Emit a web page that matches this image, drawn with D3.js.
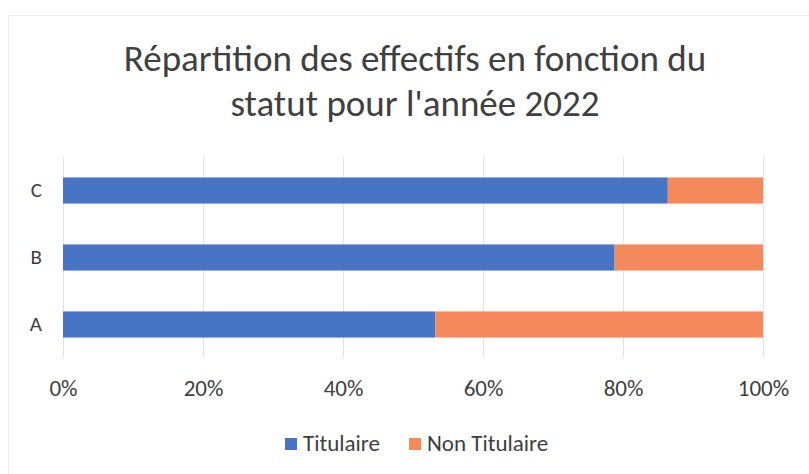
<!DOCTYPE html>
<html>
<head>
<meta charset="utf-8">
<script src="https://cdn.jsdelivr.net/npm/d3@7"></script>
<style>
  body { margin: 0; background: #fff; }
  text { font-family: Carlito, Calibri, Lato, "Open Sans", sans-serif; fill: #404040; }
</style>
</head>
<body>
<svg id="chart" width="809" height="474"></svg>
<script>
// data (share of staff per category)
var categories = ["A", "B", "C"];
var seriesNames = ["Titulaire", "Non Titulaire"];
var titulaire = [0.532, 0.788, 0.864];
var nonTitulaire = [0.468, 0.212, 0.136];
var tickValues = [0, 0.2, 0.4, 0.6, 0.8, 1];
var colors = ["#4874c6", "#f48a5c"];
var titleLines = ["Répartition des effectifs en fonction du", "statut pour l'année 2022"];

var svg = d3.select("#chart");

// faint frame of the chart object
svg.append("rect")
    .attr("x", 8.5).attr("y", 15.5)
    .attr("width", 820).attr("height", 480)
    .attr("fill", "none")
    .attr("stroke", "#eeeeee");

var margin = {left: 63, right: 46, top: 157, bottom: 116};
var width = 809 - margin.left - margin.right;

var x = d3.scaleLinear().domain([0, 1]).range([margin.left, margin.left + width]);
var y = d3.scaleBand()
    .domain(categories.slice().reverse())
    .range([margin.top, 474 - margin.bottom])
    .paddingInner(0.61)
    .paddingOuter(0.305);

// title
svg.append("g").selectAll("text")
    .data(titleLines)
    .join("text")
    .attr("x", 415)
    .attr("y", function(d, i) { return 71 + i * 45; })
    .attr("text-anchor", "middle")
    .style("font-size", "37px")
    .text(function(d) { return d; });

// vertical gridlines
svg.append("g").selectAll("line")
    .data(tickValues)
    .join("line")
    .attr("x1", function(d) { return x(d) + 0.5; })
    .attr("x2", function(d) { return x(d) + 0.5; })
    .attr("y1", margin.top)
    .attr("y2", 474 - margin.bottom)
    .attr("stroke", "#e2e2e2");

// stacked bars
var rows = categories.map(function(c, i) {
    return {cat: c, Titulaire: titulaire[i], "Non Titulaire": nonTitulaire[i]};
});
var stack = d3.stack().keys(seriesNames)(rows);

svg.append("g").selectAll("g")
    .data(stack)
    .join("g")
    .attr("fill", function(d, i) { return colors[i]; })
    .selectAll("rect")
    .data(function(d) { return d; })
    .join("rect")
    .attr("x", function(d) { return x(d[0]); })
    .attr("width", function(d) { return x(Math.min(d[1], 1)) - x(d[0]); })
    .attr("y", function(d) { return y(d.data.cat); })
    .attr("height", y.bandwidth());

// axes (labels only, no domain lines)
var xAxis = svg.append("g")
    .attr("transform", "translate(0," + (474 - margin.bottom) + ")")
    .call(d3.axisBottom(x).tickValues(tickValues).tickFormat(d3.format(".0%")).tickSize(0).tickPadding(22));
xAxis.select(".domain").remove();
xAxis.selectAll("text").style("font-size", "23px").attr("fill", "#404040");

var yAxis = svg.append("g")
    .attr("transform", "translate(" + margin.left + ",0)")
    .call(d3.axisLeft(y).tickSize(0).tickPadding(21));
yAxis.select(".domain").remove();
yAxis.selectAll("text").style("font-size", "21px").attr("fill", "#404040");

// legend
var legendX = [285, 409];
var legend = svg.append("g").selectAll("g")
    .data(seriesNames)
    .join("g")
    .attr("transform", function(d, i) { return "translate(" + legendX[i] + ",438)"; });
legend.append("rect")
    .attr("width", 12).attr("height", 12)
    .attr("fill", function(d, i) { return colors[i]; });
legend.append("text")
    .attr("x", 18).attr("y", 13)
    .style("font-size", "23px")
    .text(function(d) { return d; });
</script>
</body>
</html>
